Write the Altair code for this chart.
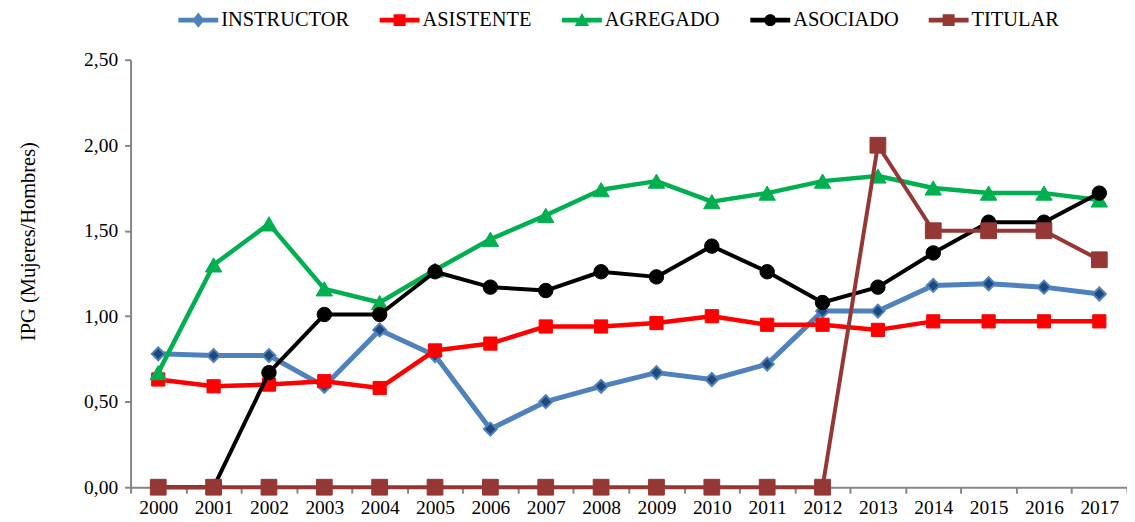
import altair as alt
import pandas as pd

years = ["2000", "2001", "2002", "2003", "2004", "2005", "2006", "2007", "2008",
         "2009", "2010", "2011", "2012", "2013", "2014", "2015", "2016", "2017"]

series_names = ["INSTRUCTOR", "ASISTENTE", "AGREGADO", "ASOCIADO", "TITULAR"]

instructor = [0.78, 0.77, 0.77, 0.59, 0.92, 0.77, 0.34, 0.50, 0.59,
              0.67, 0.63, 0.72, 1.03, 1.03, 1.18, 1.19, 1.17, 1.13]
asistente = [0.63, 0.59, 0.60, 0.62, 0.58, 0.80, 0.84, 0.94, 0.94,
             0.96, 1.00, 0.95, 0.95, 0.92, 0.97, 0.97, 0.97, 0.97]
agregado = [0.67, 1.30, 1.54, 1.16, 1.08, 1.27, 1.45, 1.59, 1.74,
            1.79, 1.67, 1.72, 1.79, 1.82, 1.75, 1.72, 1.72, 1.68]
asociado = [0.00, 0.00, 0.67, 1.01, 1.01, 1.26, 1.17, 1.15, 1.26,
            1.23, 1.41, 1.26, 1.08, 1.17, 1.37, 1.55, 1.55, 1.72]
titular = [0.00, 0.00, 0.00, 0.00, 0.00, 0.00, 0.00, 0.00, 0.00,
           0.00, 0.00, 0.00, 0.00, 2.00, 1.50, 1.50, 1.50, 1.33]

values = [instructor, asistente, agregado, asociado, titular]

line_colors = ["#4F81BD", "#FF0000", "#00B050", "#000000", "#953735"]
marker_fill = ["#1F497D", "#FF0000", "#00B050", "#000000", "#953735"]
marker_shapes = ["diamond", "square", "triangle-up", "circle", "square"]
marker_sizes = [170, 175, 270, 210, 250]
line_widths = [5, 4.5, 4.5, 4, 4]

# legend symbols: horizontal line segment plus marker
bar = "M-1,-0.12H1V0.12H-1Z"
legend_paths = [
    bar + "M0,-0.38L0.3,0L0,0.38L-0.3,0Z",
    bar + "M-0.3,-0.3H0.3V0.3H-0.3Z",
    bar + "M0,-0.36L0.36,0.3H-0.36Z",
    bar + "M-0.3,0a0.3,0.3 0 1,1 0.6,0a0.3,0.3 0 1,1 -0.6,0",
    bar + "M-0.3,-0.3H0.3V0.3H-0.3Z",
]

rows = []
for name, vals in zip(series_names, values):
    for yr, v in zip(years, vals):
        rows.append({"year": yr, "value": v, "serie": name})
df = pd.DataFrame(rows)

FONT = "Liberation Serif"
AXIS_GRAY = "#868686"

x_enc = alt.X(
    "year:O",
    scale=alt.Scale(type="band", domain=years, paddingInner=0, paddingOuter=0),
    axis=alt.Axis(
        title=None, labelAngle=0, tickBand="extent", labelFont=FONT,
        labelFontSize=19.5, labelColor="#000000", domainColor=AXIS_GRAY,
        domainWidth=2, tickColor=AXIS_GRAY, tickWidth=2, tickSize=6,
        labelPadding=5, grid=False,
    ),
)
y_enc = alt.Y(
    "value:Q",
    scale=alt.Scale(domain=[0, 2.5], nice=False, zero=True),
    axis=alt.Axis(
        title="IPG (Mujeres/Hombres)", values=[0, 0.5, 1.0, 1.5, 2.0, 2.5],
        labelExpr="replace(format(datum.value, '.2f'), '.', ',')",
        labelFont=FONT, labelFontSize=19.5, labelColor="#000000",
        titleFont=FONT, titleFontSize=20.5, titleFontWeight="normal",
        titleColor="#000000", titleX=-102, titleY=182,
        titleAlign="center", titleBaseline="middle", titleAngle=-90,
        domainColor=AXIS_GRAY, domainWidth=2, tickColor=AXIS_GRAY,
        tickWidth=2, tickSize=6, labelPadding=7, grid=False,
    ),
)

layers = []
for i, name in enumerate(series_names):
    sub = df[df["serie"] == name]
    base = alt.Chart(sub)
    layers.append(
        base.mark_line(color=line_colors[i], strokeWidth=line_widths[i],
                       strokeJoin="round").encode(x=x_enc, y=y_enc)
    )
    layers.append(
        base.mark_point(shape=marker_shapes[i], filled=True,
                        fill=marker_fill[i], stroke=line_colors[i],
                        strokeWidth=2 if i == 0 else 1, opacity=1,
                        size=marker_sizes[i]).encode(x=x_enc, y=y_enc)
    )

legend_props = dict(
    title=None, orient="none", direction="horizontal",
    legendX=48, legendY=-60, symbolSize=1600,
    symbolOpacity=1, symbolStrokeWidth=0,
    labelFont=FONT, labelFontSize=20.5,
    labelColor="#000000", labelOffset=3,
    columnPadding=30, padding=0,
)

legend_layer = alt.Chart(df).mark_point(filled=True, opacity=0).encode(
    x=x_enc,
    y=y_enc,
    color=alt.Color("serie:N",
                    scale=alt.Scale(domain=series_names, range=line_colors),
                    legend=alt.Legend(**legend_props)),
    shape=alt.Shape("serie:N",
                    scale=alt.Scale(domain=series_names, range=legend_paths),
                    legend=alt.Legend(**legend_props)),
)

chart = alt.layer(*layers, legend_layer).properties(
    width=1000,
    height=429,
    background="white",
    autosize=alt.AutoSizeParams(type="none"),
    padding={"left": 123, "top": 51, "right": 0, "bottom": 34},
).configure_view(stroke=None)

chart.save("out.html", embed_options={"renderer": "svg", "actions": False})
